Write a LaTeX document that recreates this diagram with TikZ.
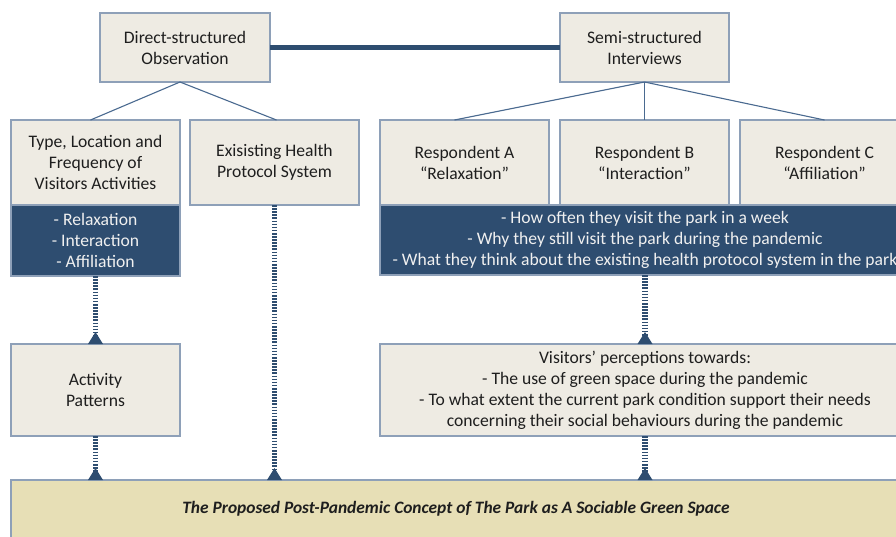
\documentclass[tikz,border=0pt]{standalone}
\usepackage{fontspec}
\setmainfont{Carlito}
\definecolor{boxfill}{HTML}{EEEBE3}
\definecolor{boxline}{HTML}{8EA0B8}
\definecolor{navy}{HTML}{2E4D70}
\definecolor{thinline}{HTML}{4A6A90}
\definecolor{finfill}{HTML}{E7DFB6}
\definecolor{txt}{HTML}{1E1E1E}
\tikzset{
  lbox/.style={draw=boxline, line width=1.3pt, fill=boxfill, align=center, text=txt,
    inner sep=0pt, outer sep=0pt, font=\fontsize{17.6}{21}\selectfont},
  dbox/.style={draw=boxline, line width=1.3pt, fill=navy, align=center, text=white!94!black,
    inner sep=0pt, outer sep=0pt, font=\fontsize{17.6}{21}\selectfont},
  fbox/.style={draw=boxline, line width=1.3pt, fill=finfill, align=center, text=txt,
    inner sep=0pt, outer sep=0pt, font=\fontsize{17.4}{21}\selectfont\bfseries\itshape},
  thin/.style={draw=thinline, line width=1.1pt},
  thick/.style={draw=navy, line width=5pt},
  ladder/.style={draw=navy, line width=5.5pt, dash pattern=on 1.6pt off 1.5pt},
  headtri/.style={fill=navy}
}
\newcommand{\uptri}[1]{\fill[headtri] (#1) ++(-7.5,0) -- ++(15,0) -- ++(-7.5,-12) -- cycle;}
\begin{document}
\begin{tikzpicture}[x=1pt,y=-1pt]
\useasboundingbox (0,0) rectangle (896,536);
\clip (0,0) rectangle (896,536);
\fill[white] (0,0) rectangle (896,536);
% top
\node[lbox, minimum width=170pt, minimum height=69pt] (dso) at (185,47.5) {Direct-structured\\Observation};
\node[lbox, minimum width=169pt, minimum height=69pt] (ssi) at (644.5,47.5) {Semi-structured\\Interviews};
% second row
\node[lbox, minimum width=169pt, minimum height=85pt] (type) at (95.5,162.5) {Type, Location and\\Frequency of\\Visitors Activities};
\node[dbox, minimum width=169pt, minimum height=71pt] (typd) at (95.5,240.5) {- Relaxation\\- Interaction\\- Affiliation};
\node[lbox, minimum width=169pt, minimum height=85pt] (health) at (274.5,162.5) {Exisisting Health\\Protocol System};
\node[lbox, minimum width=169pt, minimum height=85pt] (ra) at (464.5,162.5) {Respondent A\\“Relaxation”};
\node[lbox, minimum width=169pt, minimum height=85pt] (rb) at (644.5,162.5) {Respondent B\\“Interaction”};
\node[lbox, minimum width=169pt, minimum height=85pt] (rc) at (824.5,162.5) {Respondent C\\“Affiliation”};
\node[dbox, minimum width=530pt, minimum height=70pt] (bar) at (645,240) {- How often they visit the park in a week\\- Why they still visit the park during the pandemic\\- What they think about the existing health protocol system in the park};
% third row
\node[lbox, minimum width=169pt, minimum height=92pt] (ap) at (95.5,390) {Activity\\Patterns};
\node[lbox, minimum width=530pt, minimum height=92pt] (vp) at (645,390) {Visitors’ perceptions towards:\\- The use of green space during the pandemic\\- To what extent the current park condition support their needs\\concerning their social behaviours during the pandemic};
% final
\node[fbox, minimum width=890pt, minimum height=58pt] (fin) at (456,509) {The Proposed Post-Pandemic Concept of The Park as A Sociable Green Space};
% connectors
\draw[thick] (dso.east) -- (ssi.west);
\draw[thin] ([xshift=-5pt]dso.south) -- ([xshift=-5pt]type.north);
\draw[thin] ([xshift=-5pt]dso.south) -- ([xshift=2pt]health.north);
\draw[thin] (ssi.south) -- ([xshift=-10pt]ra.north);
\draw[thin] (ssi.south) -- (rb.north);
\draw[thin] (ssi.south) -- (rc.north);
\draw[ladder] (typd.south) -- (ap.north);
\draw[ladder] (ap.south) -- (ap.south |- fin.north);
\draw[ladder] (health.south) -- (health.south |- fin.north);
\draw[ladder] (bar.south) -- (vp.north);
\draw[ladder] (vp.south) -- (vp.south |- fin.north);
\uptri{ap.north}
\uptri{ap.south |- fin.north}
\uptri{health.south |- fin.north}
\uptri{vp.north}
\uptri{vp.south |- fin.north}
\end{tikzpicture}
\end{document}
